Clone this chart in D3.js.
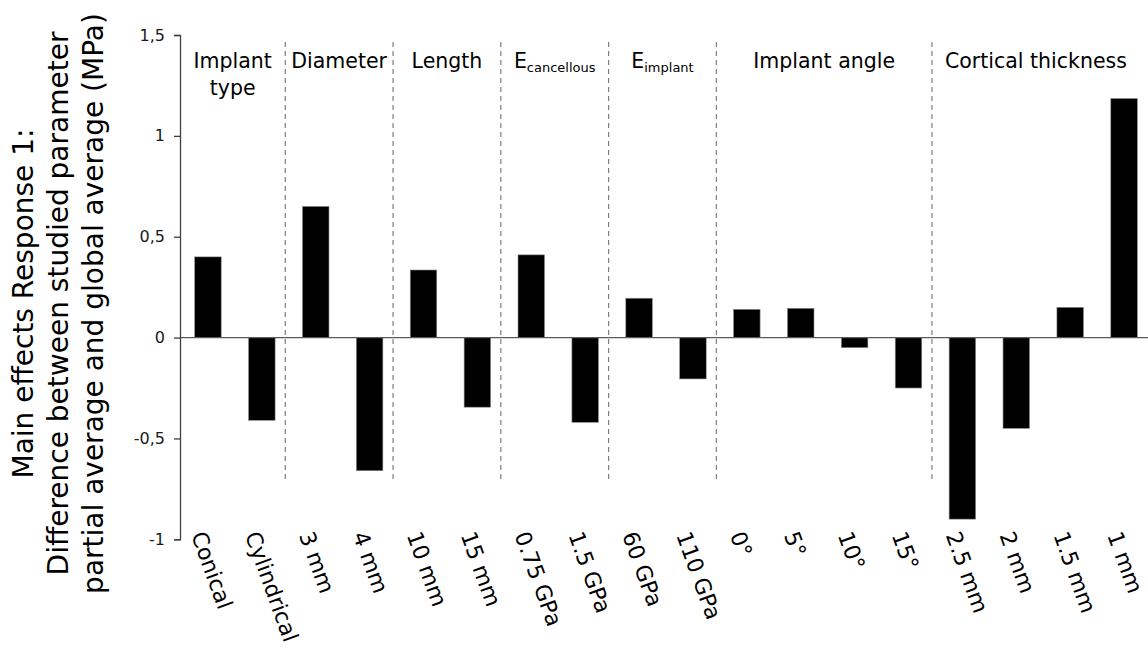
<!DOCTYPE html>
<html>
<head>
<meta charset="utf-8">
<script src="https://cdn.jsdelivr.net/npm/d3@7"></script>
<style>
  html, body { margin: 0; padding: 0; background: #fff; }
  svg { display: block; font-family: "DejaVu Sans", Verdana, sans-serif; }
</style>
</head>
<body>
<svg id="chart" width="1148" height="650"></svg>
<script>
// ---- data ----
const categories = ["Conical", "Cylindrical", "3 mm", "4 mm", "10 mm", "15 mm",
  "0.75 GPa", "1.5 GPa", "60 GPa", "110 GPa", "0°", "5°", "10°", "15°",
  "2.5 mm", "2 mm", "1.5 mm", "1 mm"];
const values = [0.40, -0.41, 0.65, -0.66, 0.335, -0.345, 0.41, -0.42, 0.195, -0.205,
  0.14, 0.145, -0.05, -0.25, -0.90, -0.45, 0.15, 1.185];
const groupNames = ["Implant type", "Diameter", "Length", "E|cancellous", "E|implant",
  "Implant angle", "Cortical thickness"];
const groupSizes = [2, 2, 2, 2, 2, 4, 4];
const yTicks = [-1, -0.5, 0, 0.5, 1, 1.5];
const titleLines = ["Main effects Response 1:", "Difference between studied parameter",
  "partial average and global average (MPa)"];

// ---- layout ----
const svg = d3.select("#chart");
const axisX = 180;
const x = d3.scaleBand().domain(categories).range([181, 1151])
  .paddingInner(0.508).paddingOuter(0.254);
const y = d3.scaleLinear().domain([-1, 1.5]).range([539.3, 35]);
const fmt = v => String(v).replace(".", ",");

// separators
const gap = (x.step() - x.bandwidth()) / 2;
let idx = 0;
const bounds = [axisX];
groupSizes.forEach((n, gi) => {
  idx += n;
  if (gi < groupSizes.length - 1) bounds.push(x(categories[idx]) - gap - 3.5);
});
bounds.push(1140);

svg.append("g").selectAll("line").data(bounds.slice(1, -1)).join("line")
  .attr("x1", d => d).attr("x2", d => d)
  .attr("y1", 42).attr("y2", 483)
  .attr("stroke", "#7f7f7f").attr("stroke-width", 1.2)
  .attr("stroke-dasharray", "5,4");

// bars
svg.append("g").selectAll("rect").data(categories).join("rect")
  .attr("x", d => x(d))
  .attr("width", x.bandwidth())
  .attr("y", (d, i) => y(Math.max(0, values[i])))
  .attr("height", (d, i) => Math.abs(y(values[i]) - y(0)))
  .attr("fill", "#000")
  .attr("stroke", "#8a8a8a").attr("stroke-width", 0.6);

// zero line
svg.append("line").attr("x1", axisX).attr("x2", 1148)
  .attr("y1", y(0)).attr("y2", y(0))
  .attr("stroke", "#5a5a5a").attr("stroke-width", 1.3);

// y axis
const yAxis = d3.axisLeft(y).tickValues(yTicks).tickFormat(fmt).tickSize(6).tickPadding(9);
const ga = svg.append("g").attr("transform", `translate(${axisX},0)`).call(yAxis);
ga.select(".domain").attr("stroke", "#404040").attr("stroke-width", 1.3);
ga.selectAll(".tick line").attr("stroke", "#404040").attr("stroke-width", 1.3);
ga.selectAll(".tick text").attr("font-size", 16).attr("fill", "#1a1a1a")
  .attr("font-family", "DejaVu Sans, sans-serif");

// x labels (rotated)
svg.append("g").selectAll("text").data(categories).join("text")
  .attr("transform", d => `translate(${x(d) + x.bandwidth() / 2 - 17},${535}) rotate(70)`)
  .attr("text-anchor", "start")
  .attr("font-size", 22)
  .attr("fill", "#000")
  .text(d => d);

// group labels
const gl = svg.append("g");
groupNames.forEach((name, i) => {
  const cx = (bounds[i] + bounds[i + 1]) / 2;
  const t = gl.append("text").attr("x", cx).attr("y", 68)
    .attr("text-anchor", "middle").attr("font-size", 20.5).attr("fill", "#000");
  if (name.includes("|")) {
    const [main, sub] = name.split("|");
    t.append("tspan").text(main);
    t.append("tspan").attr("font-size", 13).attr("dy", 4).text(sub);
  } else if (name === "Implant type") {
    t.append("tspan").attr("x", cx).text("Implant");
    t.append("tspan").attr("x", cx).attr("dy", 27).text("type");
  } else {
    t.text(name);
  }
});

// y title
const tt = svg.append("text")
  .attr("transform", "translate(0,303.5) rotate(-90)")
  .attr("text-anchor", "middle").attr("font-size", 28).attr("fill", "#000");
titleLines.forEach((line, i) => {
  tt.append("tspan").attr("x", 0).attr("y", 33 + i * 35).text(line);
});
</script>
</body>
</html>
